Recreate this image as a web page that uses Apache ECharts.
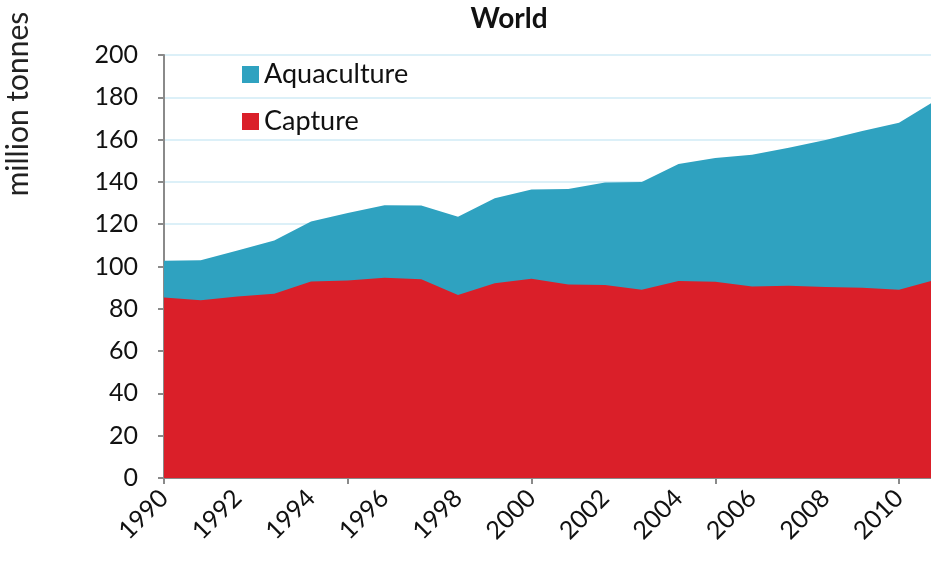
<!DOCTYPE html>
<html>
<head>
<meta charset="utf-8">
<script src="https://cdn.jsdelivr.net/npm/echarts@6/dist/echarts.min.js"></script>
<style>html,body{margin:0;padding:0;background:#fff;}#c{width:931px;height:565px;}</style>
</head>
<body>
<div id="c"></div>
<script>
const years = [1990,1991,1992,1993,1994,1995,1996,1997,1998,1999,2000,2001,2002,2003,2004,2005,2006,2007,2008,2009,2010,2011];
const capture = [85.4,84.1,85.8,87.1,92.9,93.4,94.7,94.0,86.5,92.1,94.2,91.5,91.3,89.0,93.2,92.8,90.6,90.9,90.3,89.9,89.0,93.8];
const aquaculture = [17.3,18.9,21.8,25.2,28.4,31.9,34.3,34.8,37.0,40.2,42.2,45.1,48.4,51.0,55.3,58.5,62.2,65.3,69.5,74.2,79.0,84.8];
const xLabelYears = [1990,1992,1994,1996,1998,2000,2002,2004,2006,2008,2010];
const xTickYears = [1990,1995,2000,2005,2010];
const yTicks = [0,20,40,60,80,100,120,140,160,180,200];

// stacked top edge (capture + aquaculture)
const stackedTop = years.map((y, i) => [y, +(capture[i] + aquaculture[i]).toFixed(2)]);

const FONT = 'Lato, "Open Sans", sans-serif';
const chart = echarts.init(document.getElementById('c'), null, {renderer: 'canvas'});
chart.setOption({
  animation: false,
  backgroundColor: '#fff',
  grid: {left: 164, right: 0, top: 55, bottom: 87, containLabel: false},
  graphic: [
    {type: 'text', x: 509, y: 19,
     style: {text: 'World', font: 'bold 28px ' + FONT, fill: '#111', align: 'center', verticalAlign: 'middle'}},
    {type: 'text', x: 18, y: 104, rotation: Math.PI / 2,
     style: {text: 'million tonnes', font: '30px ' + FONT, fill: '#222', align: 'center', verticalAlign: 'middle'}}
  ],
  legend: {
    data: ['Aquaculture', 'Capture'],
    orient: 'vertical', left: 237, top: 56, itemGap: 20,
    itemWidth: 17, itemHeight: 17, icon: 'rect',
    textStyle: {fontFamily: FONT, fontSize: 27, color: '#111'}
  },
  xAxis: {
    type: 'value', min: 1990, max: 2010.87, interval: 1,
    axisLine: {show: true, lineStyle: {color: '#8a8a8a', width: 2}},
    axisTick: {show: true, length: 6, lineStyle: {color: '#8a8a8a', width: 2}, customValues: xTickYears},
    axisLabel: {customValues: xLabelYears, rotate: 45, margin: 16, fontFamily: FONT, fontSize: 25, color: '#111',
      formatter: v => String(v)},
    splitLine: {show: false}
  },
  yAxis: {
    type: 'value', min: 0, max: 200, interval: 20,
    axisLine: {show: true, lineStyle: {color: '#8a8a8a', width: 2}},
    axisTick: {show: true, length: 6, lineStyle: {color: '#8a8a8a', width: 2}},
    axisLabel: {margin: 26, fontFamily: FONT, fontSize: 25, color: '#111', customValues: yTicks},
    splitLine: {show: true, lineStyle: {color: '#dcf0f8', width: 2}}
  },
  series: [
    {
      name: 'Aquaculture', type: 'line', symbol: 'none', clip: true,
      data: stackedTop,
      lineStyle: {width: 0}, itemStyle: {color: '#2fa2c0'},
      areaStyle: {color: '#2fa2c0', opacity: 1}, z: 2
    },
    {
      name: 'Capture', type: 'line', symbol: 'none', clip: true,
      data: years.map((y, i) => [y, capture[i]]),
      lineStyle: {width: 0}, itemStyle: {color: '#da1f29'},
      areaStyle: {color: '#da1f29', opacity: 1}, z: 3
    }
  ]
});
</script>
</body>
</html>
